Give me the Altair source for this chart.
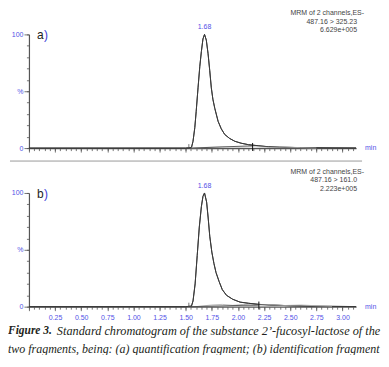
import altair as alt
import pandas as pd

# ---- data ----
time_a = [0.0, 1.50, 1.555, 1.57, 1.587, 1.60, 1.618, 1.635, 1.65, 1.665, 1.68, 1.697, 1.714, 1.73, 1.745,
          1.76, 1.778, 1.81, 1.84, 1.873, 1.92, 1.97, 2.03, 2.10, 2.20, 2.29, 2.40, 2.60, 2.90, 3.13]
pct_a = [0.0, 0.0, 0.5, 6, 18, 32, 53, 72, 85, 96, 100, 95, 83, 68, 53,
         43, 35, 23.5, 17, 12, 8.5, 6, 4.3, 3, 2, 1.2, 0.8, 0.4, 0.2, 0.1]

time_b = [0.0, 1.50, 1.555, 1.57, 1.59, 1.61, 1.63, 1.65, 1.665, 1.68, 1.70, 1.715, 1.73, 1.75,
          1.77, 1.79, 1.82, 1.85, 1.89, 1.95, 2.02, 2.10, 2.20, 2.30, 2.50, 2.70, 3.13]
pct_b = [0.0, 0.0, 0.5, 5, 20, 45, 70, 88, 97, 100, 92, 78, 62, 48,
         38, 30, 22, 15, 10, 6.5, 4, 3, 2, 1.5, 0.8, 0.4, 0.1]

noise_time_a = [1.55, 1.70, 1.85, 2.00, 2.15, 2.30, 2.45, 2.60, 2.75]
noise_pct_a = [0.0, 0.6, 1.0, 0.7, 1.1, 0.6, 0.9, 0.4, 0.0]
noise_time_b = [1.60, 1.75, 1.85, 1.95, 2.05, 2.15, 2.30, 2.45, 2.60, 2.75, 2.90]
noise_pct_b = [0.0, 1.5, 2.0, 1.2, 2.0, 1.0, 1.8, 1.0, 1.5, 0.8, 0.3]

base_time_a = [1.55, 2.14]
base_pct_a = [0.0, 2.0]
base_time_b = [1.55, 2.20]
base_pct_b = [0.0, 1.5]

peak_time = [1.68]
peak_label = ["1.68"]

header_a = ["MRM of 2 channels,ES-", "487.16 > 325.23", "6.629e+005"]
header_b = ["MRM of 2 channels,ES-", "487.16 > 161.0", "2.223e+005"]

minor_x = [round(i * 0.05, 2) for i in range(0, 63)]
major_x = [round(i * 0.25, 2) for i in range(0, 13)]
minor_y = list(range(0, 101, 10))
major_y = [0, 50, 100]

caption_bold = "Figure 3."
caption_1 = "Standard chromatogram of the substance 2’-fucosyl-lactose of the"
caption_2 = "two fragments, being: (a) quantification fragment; (b) identification fragment"

# ---- styling ----
W, H = 328, 114
XMAX = 3.13
BLUE = "#5252e6"
AX = "#555555"
LINE = "#3a3a3a"
FONT = "Liberation Sans"

xs = alt.Scale(domain=[0, XMAX], nice=False, zero=False)
ys = alt.Scale(domain=[0, 100], nice=False)


def label(txt, x, y, **kw):
    return alt.Chart(pd.DataFrame({"txt": [txt]})).mark_text(**kw).encode(
        x=alt.value(x), y=alt.value(y), text="txt:N")


def panel(times, pcts, ntimes, npcts, btimes, bpcts, header, letter, show_labels):
    df = pd.DataFrame({"t": times, "p": pcts})
    dn = pd.DataFrame({"t": ntimes, "p": npcts})
    db = pd.DataFrame({"t": btimes, "p": bpcts})
    dm = pd.DataFrame({"t": [btimes[-1]], "lo": [-2.5], "hi": [4.5]})
    ds = pd.DataFrame({"t": [1.53], "lo": [0.0], "hi": [3.5]})
    dpk = pd.DataFrame({"t": peak_time, "p": [100], "lab": peak_label})

    minor_axis_x = alt.Axis(values=minor_x, tickSize=2.5, labels=False, domain=True,
                            domainColor=AX, tickColor=AX, grid=False, title=None,
                            orient="bottom", domainWidth=1.2, tickWidth=0.8)
    minor_axis_y = alt.Axis(values=minor_y, tickSize=2.5, labels=False, domain=True,
                            domainColor=AX, tickColor=AX, grid=False, title=None,
                            orient="left", domainWidth=1.2, tickWidth=0.8)
    major_axis_x = alt.Axis(values=major_x, tickSize=4, labels=show_labels, domain=False,
                            tickColor=AX, grid=False, title=None, orient="bottom",
                            labelExpr="datum.value == 0 ? '' : format(datum.value, '.2f')",
                            labelColor=BLUE, labelFont=FONT, labelFontSize=7,
                            labelPadding=3, tickWidth=0.8)
    major_axis_y = alt.Axis(values=major_y, tickSize=5, labels=True, domain=False,
                            tickColor=AX, grid=False, title=None, orient="left",
                            labelExpr="datum.value == 50 ? '%' : datum.label",
                            labelColor=BLUE, labelFont=FONT, labelFontSize=7,
                            labelPadding=1, tickWidth=0.8)

    trace = alt.Chart(df).mark_line(color=LINE, strokeWidth=1).encode(
        x=alt.X("t:Q", scale=xs, axis=minor_axis_x),
        y=alt.Y("p:Q", scale=ys, axis=minor_axis_y),
    )
    trace2 = alt.Chart(df).mark_line(color=LINE, strokeWidth=1).encode(
        x=alt.X("t:Q", scale=xs, axis=major_axis_x),
        y=alt.Y("p:Q", scale=ys, axis=major_axis_y),
    )
    noise = alt.Chart(dn).mark_line(color="#b0b0b0", strokeWidth=0.8).encode(
        x=alt.X("t:Q", scale=xs, axis=None),
        y=alt.Y("p:Q", scale=ys, axis=None),
    )
    base = alt.Chart(db).mark_line(color=LINE, strokeWidth=0.8).encode(
        x=alt.X("t:Q", scale=xs, axis=None),
        y=alt.Y("p:Q", scale=ys, axis=None),
    )
    marker = alt.Chart(dm).mark_rule(color="#111111", strokeWidth=1).encode(
        x=alt.X("t:Q", scale=xs, axis=None),
        y=alt.Y("lo:Q", scale=ys, axis=None),
        y2="hi:Q",
    )
    start = alt.Chart(ds).mark_rule(color="#555555", strokeWidth=0.8).encode(
        x=alt.X("t:Q", scale=xs, axis=None),
        y=alt.Y("lo:Q", scale=ys, axis=None),
        y2="hi:Q",
    )
    pk = alt.Chart(dpk).mark_text(color=BLUE, font=FONT, fontSize=7, dy=-7).encode(
        x=alt.X("t:Q", scale=xs, axis=None),
        y=alt.Y("p:Q", scale=ys, axis=None),
        text="lab:N",
    )
    hkw = dict(color="#444444", font=FONT, fontSize=7, align="right", baseline="middle")
    h1 = label(header[0], W + 8, -21, **hkw)
    h2 = label(header[1], W + 1, -12.5, **hkw)
    h3 = label(header[2], W + 1, -4, **hkw)
    min_lbl = label("min", W + 9, H, color=BLUE, font=FONT, fontSize=7,
                    align="left", baseline="middle")
    let1 = label(letter, 8, 1, color="#222222", font=FONT, fontSize=12,
                 align="left", baseline="middle")
    let2 = label(")", 15, 1, color="#3a3ad8", font=FONT, fontSize=12,
                 align="left", baseline="middle")

    return [trace, trace2, noise, base, marker, start, pk, h1, h2, h3, min_lbl, let1, let2]


layers_a = panel(time_a, pct_a, noise_time_a, noise_pct_a, base_time_a, base_pct_a,
                 header_a, "a", False)
sep = alt.Chart(pd.DataFrame({"v": [0]})).mark_rule(color="#9a9a9a", strokeWidth=1).encode(
    x=alt.value(-19), x2=alt.value(334), y=alt.value(H + 13))
chart_a = alt.layer(*layers_a, sep).resolve_scale(y="independent").resolve_axis(
    x="independent", y="independent").properties(width=W, height=H)

layers_b = panel(time_b, pct_b, noise_time_b, noise_pct_b, base_time_b, base_pct_b,
                 header_b, "b", True)
ckw = dict(color="#231f20", font="Liberation Serif", fontStyle="italic",
           align="left", baseline="middle")
cap_b = label(caption_bold, -21, 138, fontSize=11.5, fontWeight="bold", **ckw)
cap_1 = label(caption_1, 28, 138, fontSize=12.3, **ckw)
cap_2 = label(caption_2, -21, 156, fontSize=12, **ckw)
chart_b = alt.layer(*layers_b, cap_b, cap_1, cap_2).resolve_scale(y="independent").resolve_axis(
    x="independent", y="independent").properties(width=W, height=H)

chart = alt.vconcat(chart_a, chart_b, spacing=45, bounds="flush").configure_view(
    stroke=None).properties(padding={"left": 0, "top": 1, "right": 0, "bottom": 0},
                            background="white")

chart.save("out.html", embed_options={"renderer": "svg", "actions": False})
